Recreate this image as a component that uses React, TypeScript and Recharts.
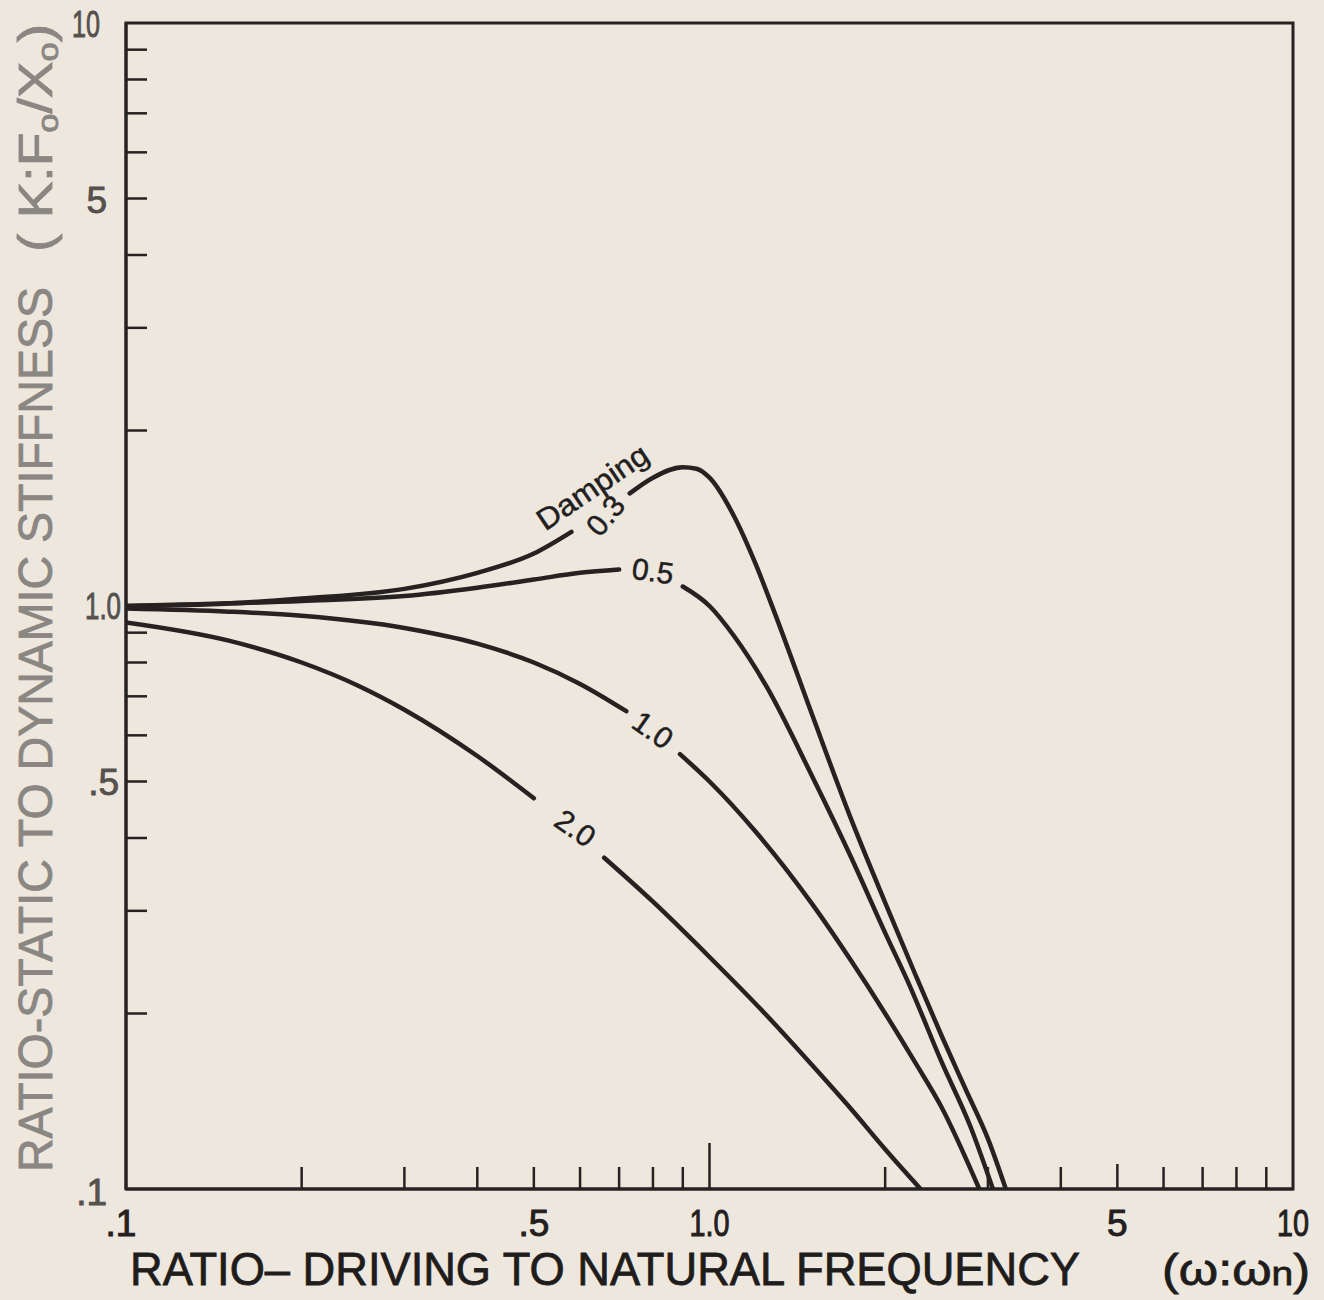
import React from 'react';
import { LineChart, Line, XAxis, YAxis, ReferenceArea, ReferenceDot, Label } from 'recharts';

// Frequency ratio (ω:ωn) and ratio static-to-dynamic stiffness for each damping value.
// null marks the gap where the curve's label is written.
const freq03 = [0.1, 0.15, 0.2, 0.3, 0.4, 0.5, 0.58, 0.65, 0.73, 0.8, 0.9, 0.95, 1.0, 1.1, 1.2, 1.3, 1.5, 1.75, 2.0, 2.25, 2.5, 2.75, 3.0, 3.22];
const ratio03 = [1.0, 1.01, 1.03, 1.07, 1.14, 1.23, 1.34, null, 1.56, 1.66, 1.73, 1.72, 1.66, 1.43, 1.18, 0.96, 0.65, 0.43, 0.31, 0.234, 0.183, 0.148, 0.122, 0.1];

const freq05 = [0.1, 0.2, 0.3, 0.4, 0.5, 0.6, 0.7, 0.8, 0.9, 1.0, 1.1, 1.25, 1.5, 1.75, 2.0, 2.2, 2.5, 2.8, 3.06];
const ratio05 = [1.0, 1.02, 1.04, 1.075, 1.11, 1.14, 1.155, null, 1.08, 1.0, 0.89, 0.73, 0.51, 0.37, 0.275, 0.224, 0.165, 0.128, 0.1];

const freq10 = [0.1, 0.15, 0.2, 0.3, 0.4, 0.5, 0.6, 0.72, 0.8, 0.89, 1.0, 1.2, 1.5, 1.75, 2.0, 2.25, 2.5, 2.9];
const ratio10 = [0.99, 0.978, 0.962, 0.917, 0.862, 0.8, 0.735, 0.66, null, 0.557, 0.5, 0.41, 0.308, 0.246, 0.2, 0.165, 0.138, 0.1];

const freq20 = [0.1, 0.15, 0.2, 0.25, 0.3, 0.4, 0.5, 0.58, 0.66, 0.8, 1.0, 1.25, 1.5, 1.75, 2.0, 2.3];
const ratio20 = [0.937, 0.872, 0.8, 0.73, 0.664, 0.553, 0.468, null, 0.37, 0.311, 0.25, 0.199, 0.163, 0.137, 0.117, 0.1];

const xTickValues = [0.1, 0.2, 0.3, 0.4, 0.5, 0.6, 0.7, 0.8, 0.9, 1, 2, 3, 4, 5, 6, 7, 8, 9, 10];
const xTickLabels: Record<string, string> = { '0.1': '.1', '0.5': '.5', '1': '1.0', '5': '5', '10': '10' };
const yTickValues = [0.1, 0.2, 0.3, 0.4, 0.5, 0.6, 0.7, 0.8, 0.9, 1, 2, 3, 4, 5, 6, 7, 8, 9, 10];
const yTickLabels: Record<string, string> = { '0.1': '.1', '0.5': '.5', '1': '1.0', '5': '5', '10': '10' };

const curveLabels = [
  { text: 'Damping', x: 0.63, y: 1.6, angle: -34, len: 128 },
  { text: '0.3', x: 0.663, y: 1.43, angle: -50, len: 0 },
  { text: '0.5', x: 0.8, y: 1.148, angle: 8, len: 0 },
  { text: '1.0', x: 0.8, y: 0.613, angle: 35, len: 0 },
  { text: '2.0', x: 0.589, y: 0.416, angle: 35, len: 0 },
];

const toPoints = (xs: number[], ys: (number | null)[]) => xs.map((x, i) => ({ x, y: ys[i] }));

const INK = '#262222';
const FONT = '"Liberation Sans", Arial, sans-serif';

const labelLen: Record<string, number> = { '1': 40, '10': 32 };

const XTick = (props: any) => {
  const { x, y, payload } = props;
  const v = payload.value;
  const key = String(v);
  const len = v === 1 ? 46 : v === 5 ? 25 : 22;
  const label = xTickLabels[key];
  const lenProps = labelLen[key] ? { textLength: labelLen[key], lengthAdjust: 'spacingAndGlyphs' } : {};
  return (
    <g>
      {v !== 0.1 && v !== 10 && (
        <line x1={x} x2={x} y1={y} y2={y - len} stroke={INK} strokeWidth={2.5} />
      )}
      {label && (
        <text
          x={x + (v === 0.1 ? -5 : 0)}
          y={y + 47}
          textAnchor="middle"
          fontSize={37}
          fill="#242020"
          stroke="#242020"
          strokeWidth={1}
          fontFamily={FONT}
          {...lenProps}
        >
          {label}
        </text>
      )}
    </g>
  );
};

const yDx: Record<string, number> = { '10': -26, '5': -19, '1': -5, '0.5': -7, '0.1': -19 };
const yDy: Record<string, number> = { '10': 1, '5': 1, '1': 0, '0.5': 0, '0.1': 3 };

const YTick = (props: any) => {
  const { x, y, payload } = props;
  const v = payload.value;
  const key = String(v);
  const label = yTickLabels[key];
  const lenProps = labelLen[key] ? { textLength: labelLen[key] - 4, lengthAdjust: 'spacingAndGlyphs' } : {};
  return (
    <g>
      {v !== 0.1 && v !== 10 && (
        <line x1={x} x2={x + 21} y1={y} y2={y} stroke={INK} strokeWidth={2.5} />
      )}
      {label && (
        <text
          x={x + (yDx[key] ?? -20)}
          y={y + 13 + (yDy[key] ?? 0)}
          textAnchor="end"
          fontSize={37}
          fill="#55514d"
          stroke="#55514d"
          strokeWidth={0.9}
          fontFamily={FONT}
          {...lenProps}
        >
          {label}
        </text>
      )}
    </g>
  );
};

const XTitle = () => (
  <g fontFamily={FONT} fill="#1f1c1c" stroke="#1f1c1c" strokeWidth={0.8}>
    <text x={130} y={1285} fontSize={46} textLength={950} lengthAdjust="spacingAndGlyphs">
      RATIO– DRIVING  TO  NATURAL  FREQUENCY
    </text>
    <text x={1162} y={1285} fontSize={44} textLength={148} lengthAdjust="spacingAndGlyphs">
      (ω:ω<tspan fontSize={34}>n</tspan>)
    </text>
  </g>
);

const YTitle = () => (
  <g fontFamily={FONT} fill="#8a8682" stroke="#8a8682" strokeWidth={0.8}>
    <text x={52} y={1172} fontSize={48} transform="rotate(-90, 52, 1172)" textLength={885} lengthAdjust="spacingAndGlyphs">
      RATIO-STATIC TO DYNAMIC STIFFNESS
    </text>
    <text x={52} y={252} fontSize={48} transform="rotate(-90, 52, 252)" textLength={228} lengthAdjust="spacingAndGlyphs">
      {'( K:F'}
      <tspan fontSize={30} dy={6}>o</tspan>
      <tspan dy={-6}>/X</tspan>
      <tspan fontSize={30} dy={6}>o</tspan>
      <tspan dy={-6}>)</tspan>
    </text>
  </g>
);

const makeLabelShape = (text: string, angle: number, len: number) => (p: any) => (
  <text
    x={p.cx}
    y={p.cy}
    transform={`rotate(${angle}, ${p.cx}, ${p.cy})`}
    textAnchor="middle"
    dominantBaseline="central"
    fontSize={30}
    fill="#221e1e"
    stroke="#221e1e"
    strokeWidth={0.5}
    fontFamily={FONT}
    {...(len ? { textLength: len, lengthAdjust: 'spacingAndGlyphs' } : {})}
  >
    {text}
  </text>
);

const series = [
  { name: '0.3', pts: toPoints(freq03, ratio03) },
  { name: '0.5', pts: toPoints(freq05, ratio05) },
  { name: '1.0', pts: toPoints(freq10, ratio10) },
  { name: '2.0', pts: toPoints(freq20, ratio20) },
];

export default function App() {
  return (
    <div style={{ position: 'absolute', left: 0, top: 0, width: 1324, height: 1300, background: '#ede7de' }}>
      <LineChart width={1324} height={1300} margin={{ top: 23, right: 31, left: 46, bottom: 71 }}>
        <XAxis
          type="number"
          dataKey="x"
          scale="log"
          domain={[0.1, 10]}
          ticks={xTickValues}
          interval={0}
          tick={<XTick />}
          tickSize={0}
          tickMargin={0}
          tickLine={false}
          axisLine={{ stroke: INK, strokeWidth: 3 }}
          height={40}
          allowDataOverflow
        >
          <Label content={() => <XTitle />} />
        </XAxis>
        <YAxis
          type="number"
          dataKey="y"
          scale="log"
          domain={[0.1, 10]}
          ticks={yTickValues}
          interval={0}
          tick={<YTick />}
          tickSize={0}
          tickMargin={0}
          tickLine={false}
          axisLine={{ stroke: INK, strokeWidth: 3 }}
          width={80}
          allowDataOverflow
        >
          <Label content={() => <YTitle />} />
        </YAxis>
        <ReferenceArea x1={0.1} x2={10} y1={0.1} y2={10} fill="none" fillOpacity={0} stroke={INK} strokeWidth={3} ifOverflow="visible" />
        {series.map((s) => (
          <Line
            key={s.name}
            data={s.pts}
            dataKey="y"
            type="monotone"
            stroke={INK}
            strokeWidth={4.5}
            dot={false}
            activeDot={false}
            connectNulls={false}
            isAnimationActive={false}
            strokeLinecap="round"
          />
        ))}
        {curveLabels.map((l) => (
          <ReferenceDot key={l.text} x={l.x} y={l.y} r={0} ifOverflow="visible" shape={makeLabelShape(l.text, l.angle, l.len)} />
        ))}
      </LineChart>
    </div>
  );
}
